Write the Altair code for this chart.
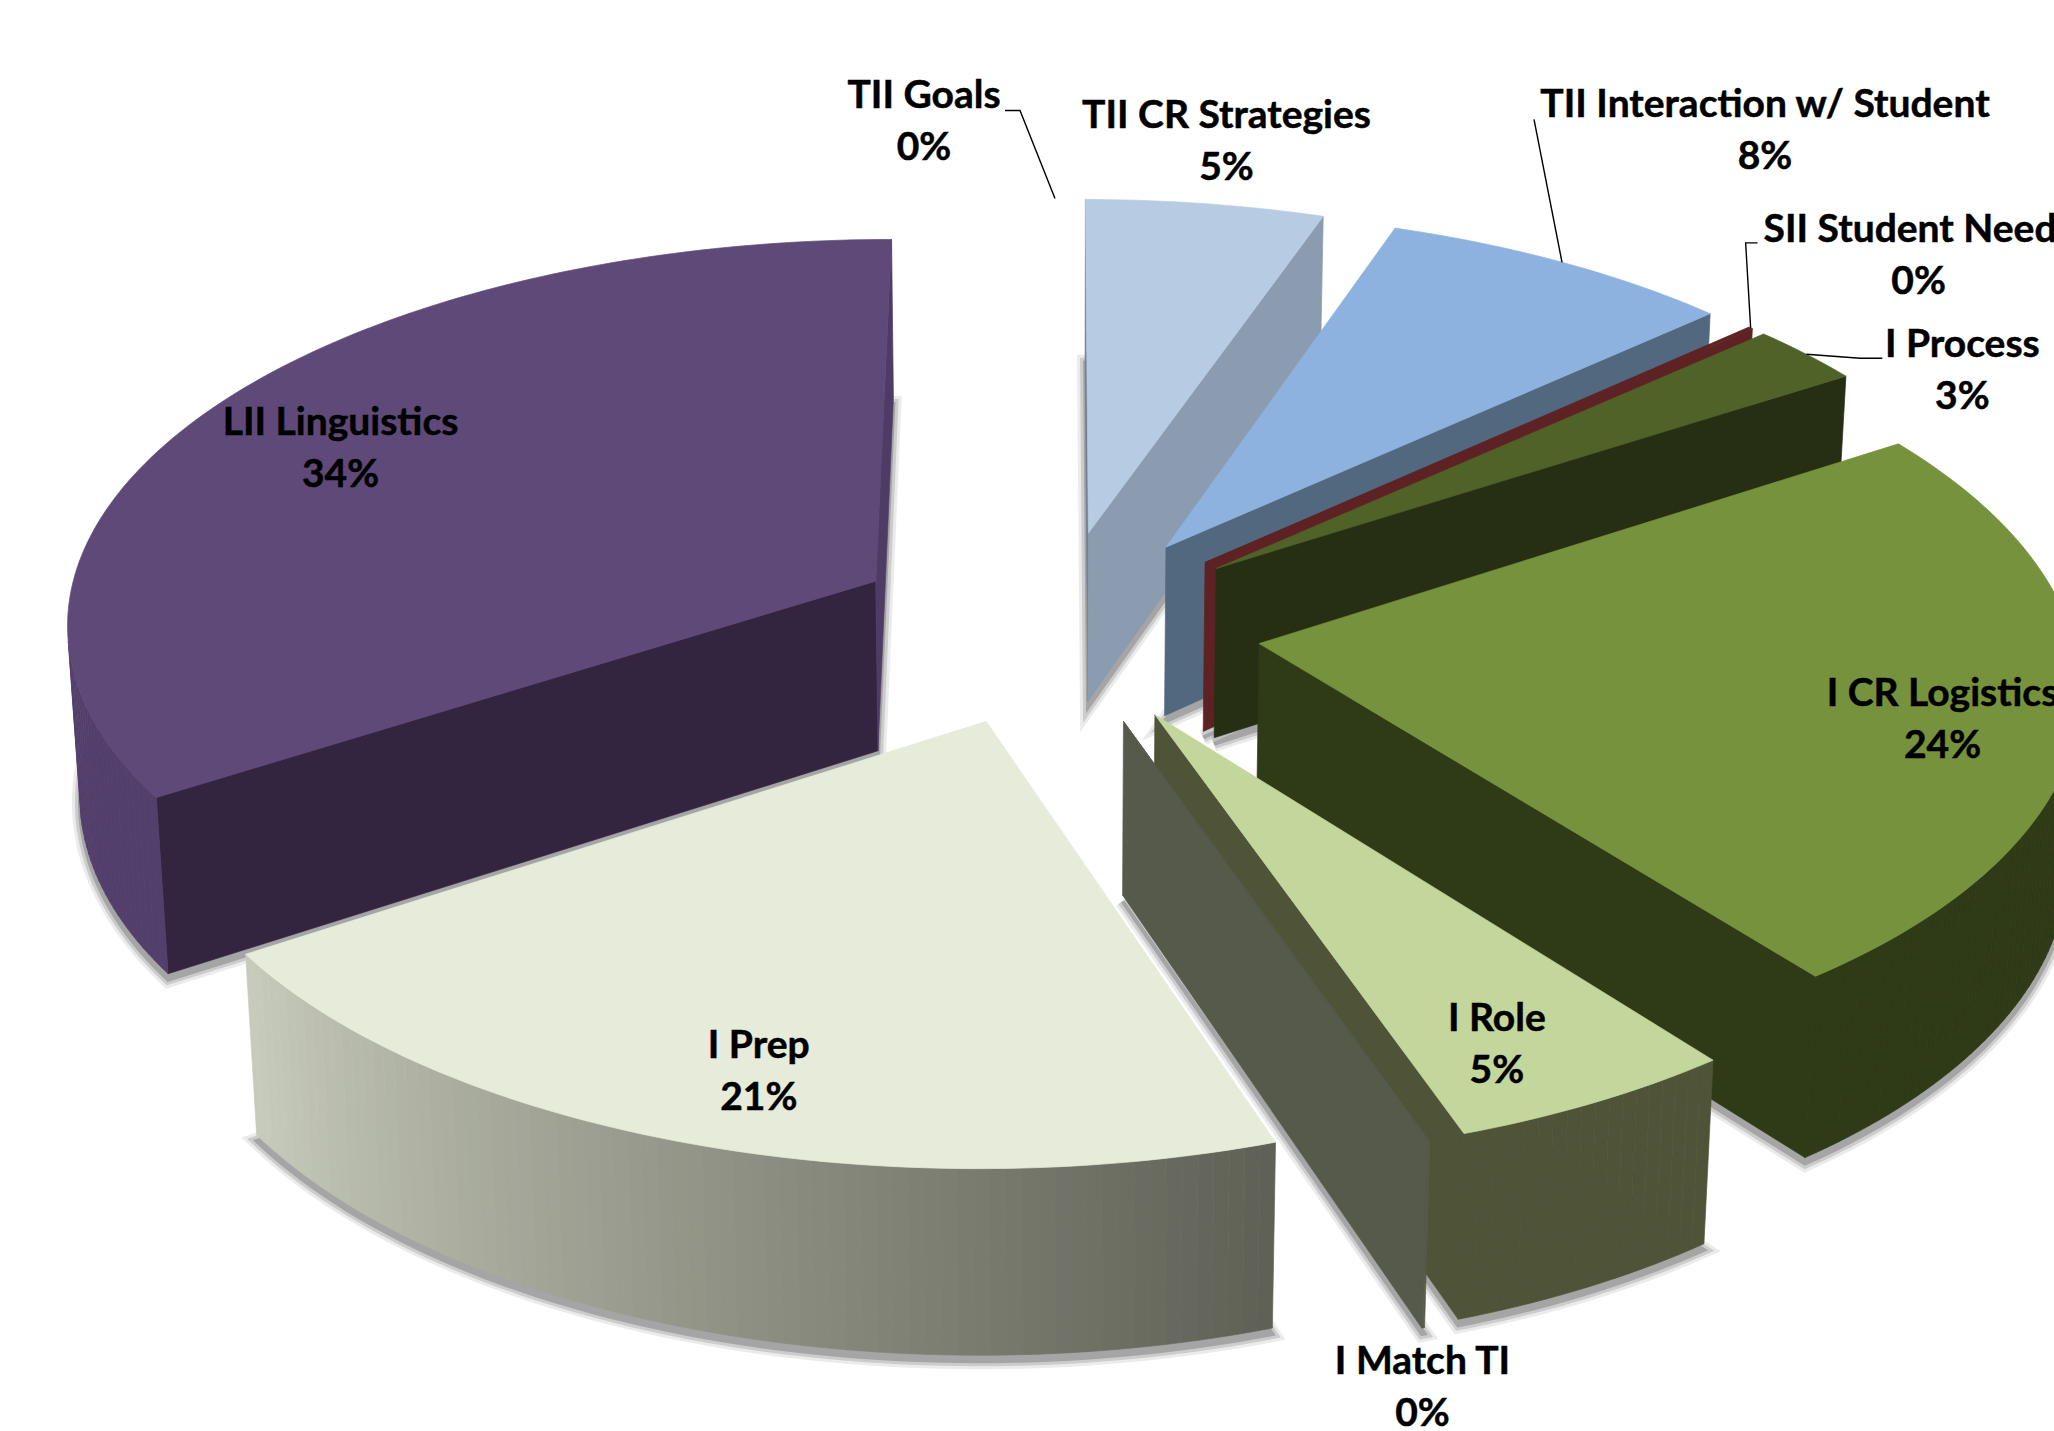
import math
import altair as alt

# Share of coded segments per category, clockwise from twelve o'clock.
categories = ["TII CR Strategies", "TII Interaction w/ Student", "SII Student Needs", "I Process",
              "I CR Logistics", "I Role", "I Match TI", "I Prep", "LII Linguistics", "TII Goals"]
shares = [5.3, 7.9, 0.1, 2.55, 23.72, 5.15, 0.05, 21.02, 34.21, 0]

# Face colours: top, wall at the start edge, wall at the end edge, rim at start angle, rim at end angle.
face_colours = {
    "TII CR Strategies": ("#B7CCE3", "#6F7E90", "#8B9CB0", "#8B9CB0", "#8B9CB0"),
    "TII Interaction w/ Student": ("#8DB2DF", "#52687F", "#52687F", "#52687F", "#52687F"),
    "SII Student Needs": ("#5E2224", "#5E2224", "#5E2224", "#5E2224", "#5E2224"),
    "I Process": ("#4F6228", "#262F13", "#262F13", "#262F13", "#262F13"),
    "I CR Logistics": ("#76923C", "#2F3A17", "#2F3A17", "#2F3A17", "#2F3A17"),
    "I Role": ("#C3D69B", "#4F5338", "#4F5338", "#4F5338", "#4F5338"),
    "I Match TI": ("#565A4A", "#565A4A", "#565A4A", "#565A4A", "#565A4A"),
    "I Prep": ("#E6EBDA", "#5F6055", "#C8CCBC", "#5F6055", "#C8CCBC"),
    "LII Linguistics": ("#5E4978", "#33243F", "#4F3C66", "#533F6B", "#533F6B"),
    "TII Goals": ("#FFFFFF", "#FFFFFF", "#FFFFFF", "#FFFFFF", "#FFFFFF"),
}

# Label placement: radial position along the slice bisector, plus a pixel nudge.
label_place = {
    "TII CR Strategies": (1.0, 21, -88),
    "TII Interaction w/ Student": (1.0, 203, -157),
    "SII Student Needs": (1.0, 168, -98),
    "I Process": (1.0, 156, -9),
    "I CR Logistics": (0.8, 29, -3),
    "I Role": (0.7, 42, 41),
    "I Match TI": (1.0, -6, 220),
    "I Prep": (0.6, -51, 83),
    "LII Linguistics": (0.65, -95, -46),
    "TII Goals": (1.0, -131, -102),
}

# Leader lines: elbow offsets measured from the label's first-line centre.
leader_elbows = {
    "TII Interaction w/ Student": [(-231, 14)],
    "SII Student Needs": [(-161, 13), (-173, 13)],
    "I Process": [(-80, 13), (-102, 13)],
    "TII Goals": [(81, 14), (96, 14)],
}

W, H = 2054, 1431
CX, CY, FOCAL, DIST = 1055.0, 627.0, 7308.0, 9.0
TILT = math.radians(28.2)
EXPLODE, THICK = 0.254, 0.242
FONT, FONT_SIZE, LINE_GAP = "Lato", 39, 52


def project(x, y, z):
    depth = DIST + y * math.cos(TILT) - z * math.sin(TILT)
    up = y * math.sin(TILT) + z * math.cos(TILT)
    return (CX + FOCAL * x / depth, CY - FOCAL * up / depth)


def rim(theta, radius, mid, z):
    ox, oy = EXPLODE * math.sin(mid), EXPLODE * math.cos(mid)
    return project(ox + radius * math.sin(theta), oy + radius * math.cos(theta), z)


def area(pts):
    return sum(pts[i][0] * pts[(i + 1) % len(pts)][1] - pts[(i + 1) % len(pts)][0] * pts[i][1]
               for i in range(len(pts)))


def lerp(a, b, t):
    ca = [int(a[i:i + 2], 16) for i in (1, 3, 5)]
    cb = [int(b[i:i + 2], 16) for i in (1, 3, 5)]
    return "#" + "".join(f"{round(p + (q - p) * t):02X}" for p, q in zip(ca, cb))


features = []


def add_poly(pts, fill, opacity=1.0, stroke_width=0.7):
    ring = [[round(p[0], 2), round(p[1], 2)] for p in pts]
    ring.append(ring[0])
    features.append({"type": "Feature",
                     "geometry": {"type": "Polygon", "coordinates": [ring]},
                     "properties": {"fill": fill, "op": opacity, "sw": stroke_width}})


total = sum(shares)
slices = []
angle = 0.0
for name, share in zip(categories, shares):
    sweep = 2 * math.pi * share / total
    slices.append({"name": name, "share": share, "a0": angle, "a1": angle + sweep,
                   "mid": angle + sweep / 2})
    angle += sweep

# Painter's order: far slices first.
for s in sorted(slices, key=lambda s: -math.cos(s["mid"])):
    if s["share"] == 0:
        continue
    top, wall0, wall1, rim0, rim1 = face_colours[s["name"]]
    n = max(2, int((s["a1"] - s["a0"]) / math.radians(1.0)))
    thetas = [s["a0"] + (s["a1"] - s["a0"]) * i / n for i in range(n + 1)]
    mid = s["mid"]
    apex_t = rim(0, 0, mid, 0)
    apex_b = rim(0, 0, mid, -THICK)
    arc_t = [rim(t, 1, mid, 0) for t in thetas]
    arc_b = [rim(t, 1, mid, -THICK) for t in thetas]

    # Soft contact shadow under the slice.
    floor = [apex_b] + arc_b
    for sw, op in ((16, 0.10), (10, 0.18), (4, 0.28)):
        add_poly([(x, y + 6) for x, y in floor], "#444444", op, sw)

    start_wall = [apex_t, arc_t[0], arc_b[0], apex_b]
    end_wall = [arc_t[-1], apex_t, apex_b, arc_b[-1]]
    if area(start_wall) < 0:
        add_poly(start_wall, wall0)
    if area(end_wall) < 0:
        add_poly(end_wall, wall1)
    for i in range(n):
        strip = [arc_t[i], arc_t[i + 1], arc_b[i + 1], arc_b[i]]
        if area(strip) < 0:
            add_poly(strip, lerp(rim0, rim1, (i + 0.5) / n))
    add_poly([apex_t] + arc_t, top)

labels, leaders = [], []
for s in slices:
    r, dx, dy = label_place[s["name"]]
    ax, ay = rim(s["mid"], r, s["mid"], 0)
    lx, ly = ax + dx, ay + dy
    labels.append({"x": lx, "y": ly, "t": s["name"]})
    labels.append({"x": lx, "y": ly + LINE_GAP, "t": f"{round(s['share'])}%"})
    if s["name"] in leader_elbows:
        path = [(lx + ox, ly + oy) for ox, oy in leader_elbows[s["name"]]]
        path.append(rim(s["mid"], 1, s["mid"], 0))
        for k, (px, py) in enumerate(path):
            leaders.append({"x": px, "y": py, "k": k, "who": s["name"]})

x_enc = alt.X("x:Q", scale=alt.Scale(domain=[0, W], range=[0, W], nice=False, zero=False), axis=None)
y_enc = alt.Y("y:Q", scale=alt.Scale(domain=[0, H], range=[0, H], nice=False, zero=False), axis=None)

pie = alt.Chart(alt.InlineData(values={"type": "FeatureCollection", "features": features},
                               format=alt.DataFormat(property="features", type="json"))).mark_geoshape().encode(
    fill=alt.Fill("properties.fill:N", scale=None),
    stroke=alt.Stroke("properties.fill:N", scale=None),
    strokeWidth=alt.StrokeWidth("properties.sw:Q", scale=None),
    opacity=alt.Opacity("properties.op:Q", scale=None),
).project(type="identity", scale=1, translate=[0, 0])

lead = alt.Chart(alt.Data(values=leaders)).mark_line(color="#000000", strokeWidth=1.4).encode(
    x=x_enc, y=y_enc, detail="who:N", order="k:Q")

text = alt.Chart(alt.Data(values=labels)).mark_text(
    font=FONT, fontSize=FONT_SIZE, fontWeight="bold", color="#000000", align="center", baseline="middle",
    stroke="#000000", strokeWidth=0.5
).encode(x=x_enc, y=y_enc, text="t:N")

chart = alt.layer(pie, lead, text).properties(
    width=W, height=H, padding=0, autosize=alt.AutoSizeParams(type="none"), background="#FFFFFF"
).configure_view(stroke=None)

chart.save("out.html", embed_options={"renderer": "svg", "actions": False})
